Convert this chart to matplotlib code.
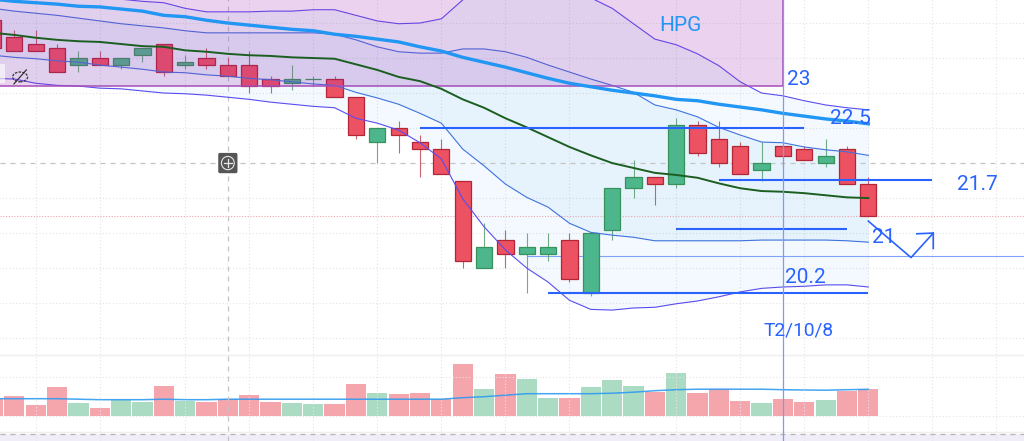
import numpy as np
import matplotlib
matplotlib.use('Agg')
import matplotlib.pyplot as plt
from matplotlib.patches import Rectangle, FancyBboxPatch, Ellipse

plt.rcParams['font.family'] = ['Roboto', 'DejaVu Sans']

# candles, index 0 is the one cut off by the left edge
opens = [24.05, 23.8, 23.7, 23.65, 23.4, 23.5, 23.4, 23.55, 23.7, 23.4, 23.5, 23.4, 23.4, 23.2,
         23.15, 23.2, 23.2, 22.95, 22.3, 22.5, 22.3, 22.2, 21.75, 20.5, 20.9, 20.7, 20.7, 20.9,
         20.15, 21.05, 21.65, 21.8, 21.7, 22.55, 22.35, 22.25, 21.9, 22.25, 22.2, 22.0, 22.2, 21.7]
highs = [24.1, 23.9, 23.9, 23.7, 23.6, 23.6, 23.5, 23.65, 23.7, 23.55, 23.65, 23.5, 23.6, 23.25,
         23.4, 23.25, 23.25, 22.95, 22.5, 22.6, 22.4, 22.35, 21.75, 21.15, 21.05, 21.0, 21.0, 21.0,
         21.0, 21.65, 22.05, 21.8, 22.65, 22.6, 22.6, 22.3, 22.3, 22.25, 22.25, 22.35, 22.25, 21.8]
lows = [23.6, 23.6, 23.6, 23.3, 23.3, 23.4, 23.35, 23.45, 23.25, 23.35, 23.35, 23.25, 23.0, 23.0,
        23.05, 23.1, 22.95, 22.35, 22.0, 22.15, 21.8, 21.85, 20.5, 20.5, 20.5, 20.15, 20.6, 20.3,
        20.1, 20.9, 21.5, 21.4, 21.65, 22.1, 21.95, 21.85, 21.75, 21.95, 22.05, 21.95, 21.7, 21.25]
closes = [23.65, 23.6, 23.6, 23.3, 23.5, 23.4, 23.5, 23.65, 23.3, 23.45, 23.4, 23.25, 23.1, 23.1,
          23.2, 23.2, 22.95, 22.4, 22.5, 22.4, 22.2, 21.85, 20.6, 20.8, 20.7, 20.8, 20.8, 20.35,
          21.0, 21.65, 21.8, 21.7, 22.55, 22.15, 22.0, 21.85, 22.0, 22.1, 22.05, 22.1, 21.7, 21.25]
volumes = [17, 19.7, 10.7, 28.4, 13, 7.7, 15.7, 14, 29.7, 15, 13.7, 16.4, 20.7, 13.7, 13, 11.7,
           11.7, 31.7, 22.4, 21.7, 22.4, 16.7, 51.7, 26.7, 41.7, 36.4, 17.7, 17.7, 28.4, 35.4,
           29.4, 24, 43, 22.4, 26.7, 14.7, 13, 16.4, 13.7, 15.4, 25, 26.7]
volume_ma = [17, 17, 17, 17, 16.5, 16, 16, 16, 16.5, 16, 16, 16.5, 16.5, 16.5, 16.5, 16.5, 16.5,
             16.5, 16.5, 16.5, 16.5, 16.5, 18, 19, 20.5, 22, 22, 22, 22, 22.5, 23.5, 25, 26, 26.5,
             26.5, 26.5, 26.5, 26, 25.7, 25.5, 26, 26.4]

# indicators
ma_long = [24.34, 24.31, 24.29, 24.27, 24.24, 24.23, 24.2, 24.17, 24.11, 24.09, 24.04, 24.0, 23.97,
           23.94, 23.91, 23.89, 23.84, 23.81, 23.77, 23.73, 23.66, 23.6, 23.51, 23.44, 23.37, 23.29,
           23.21, 23.14, 23.09, 23.04, 23.0, 22.96, 22.91, 22.89, 22.84, 22.8, 22.76, 22.71, 22.67,
           22.63, 22.6, 22.56]
ma_short = [23.86, 23.83, 23.79, 23.76, 23.74, 23.73, 23.7, 23.67, 23.66, 23.61, 23.59, 23.56, 23.54,
            23.53, 23.51, 23.5, 23.49, 23.41, 23.33, 23.23, 23.17, 23.06, 22.91, 22.79, 22.64, 22.51,
            22.37, 22.23, 22.11, 22.0, 21.93, 21.86, 21.83, 21.79, 21.71, 21.64, 21.6, 21.59, 21.57,
            21.54, 21.51, 21.5]
band_upper2 = [24.53, 24.5, 24.47, 24.44, 24.41, 24.37, 24.34, 24.31, 24.29, 24.21, 24.16, 24.16, 24.16,
               24.17, 24.17, 24.19, 24.19, 24.11, 24.03, 23.99, 24.0, 24.06, 24.33, 24.54, 24.69, 24.69,
               24.69, 24.61, 24.36, 24.21, 23.99, 23.77, 23.69, 23.56, 23.39, 23.16, 23.0, 22.96, 22.89,
               22.83, 22.79, 22.76]
band_upper1 = [24.21, 24.17, 24.14, 24.11, 24.07, 24.03, 23.99, 23.96, 23.93, 23.89, 23.86, 23.86, 23.86,
               23.86, 23.86, 23.86, 23.84, 23.76, 23.66, 23.59, 23.57, 23.57, 23.63, 23.63, 23.59, 23.51,
               23.4, 23.3, 23.2, 23.11, 23.01, 22.83, 22.76, 22.66, 22.51, 22.4, 22.3, 22.29, 22.23,
               22.19, 22.16, 22.11]
band_lower1 = [23.54, 23.51, 23.49, 23.46, 23.44, 23.4, 23.37, 23.34, 23.3, 23.29, 23.26, 23.24, 23.21,
               23.19, 23.16, 23.13, 23.11, 23.01, 22.93, 22.84, 22.71, 22.57, 22.2, 21.96, 21.7, 21.51,
               21.37, 21.14, 21.01, 20.97, 20.94, 20.89, 20.89, 20.89, 20.89, 20.89, 20.9, 20.9, 20.9,
               20.9, 20.89, 20.87]
band_lower2 = [23.21, 23.2, 23.14, 23.11, 23.1, 23.07, 23.06, 23.03, 23.0, 22.99, 22.97, 22.94, 22.91,
               22.87, 22.84, 22.81, 22.79, 22.64, 22.57, 22.47, 22.29, 22.06, 21.49, 21.09, 20.76, 20.5,
               20.3, 20.04, 19.91, 19.9, 19.93, 19.94, 19.99, 20.03, 20.09, 20.16, 20.21, 20.23, 20.24,
               20.26, 20.26, 20.23]

# grid and hand drawn things on the chart
grid_prices = [24, 23.5, 23, 22.5, 21.5, 21, 20.5, 20, 19.5, 18.94, 18.39]
solid_prices = [19.26, 18.16]
grid_candles = [2, 5, 9, 12, 15, 18, 21, 24, 27, 32, 35, 38, 41, 44, 47]
drawn_levels = [(20, 38, 22.5), (34, 44, 21.76), (32, 40, 21.06), (26, 41, 20.14)]
thin_level = (25, 20.67)
box_top, box_bottom, box_right = 24.4, 23.1, 37
arrow_x = [41, 43, 44.04]
arrow_y = [21.17, 20.65, 21.0]
head_x = [43.27, 44.04, 44.04]
head_y = [20.99, 21.0, 20.78]
notes = [('23', 37.19, 23.2), ('22.5', 39.2, 22.63), ('21.7', 45.15, 21.7), ('21', 41.17, 20.93),
         ('20.2', 37.1, 20.36)]

idx = np.arange(len(opens))
up = np.array(closes) >= np.array(opens)

fig = plt.figure(figsize=(10.24, 4.41), dpi=100)
ax = fig.add_axes([0, 0, 1, 1])
ax.set_xlim(0.328, 48.29)
ax.set_ylim(18.03, 24.329)
ax.axis('off')

ax.axhspan(18.03, 18.13, color='#f0edf8', lw=0, zorder=0)
ax.hlines(grid_prices, 0, 49, color='#e4e4e4', lw=0.8, linestyles=(0, (1, 2)), zorder=1)
ax.hlines(solid_prices, 0, 49, color='#efefef', lw=1, zorder=1)
ax.vlines(grid_candles, 18.03, 24.4, color='#e4e4e4', lw=0.8, linestyles=(0, (1, 2)), zorder=1)

# bands
ax.fill_between(idx, band_lower2, band_upper2, color='#2196f3', alpha=0.05, lw=0, zorder=2)
ax.fill_between(idx, band_lower1, band_upper1, color='#2196f3', alpha=0.06, lw=0, zorder=2)

# crosshair and last price line
ax.axhline(22, color='#c4c4c4', lw=0.9, ls=(0, (4, 4)), zorder=3)
ax.vlines(11, 18.03, 24.4, color='#c4c4c4', lw=0.9, linestyles=(0, (4, 4)), zorder=3)
ax.axhline(21.25, color='#eba5ab', lw=0.8, ls=(0, (1, 1.5)), zorder=3)
ax.axhline(18.13, color='#b4b4b4', lw=0.9, ls=(0, (4, 4)), zorder=3)

# volume on its own scale, 0 sits at the dotted line
vol = fig.add_axes([0, 0, 1, 1], sharex=ax)
vol.set_ylim(-25.3, 415.7)
vol.axis('off')
vol.patch.set_alpha(0)
vol.set_zorder(0.5)
ax.set_zorder(1)
ax.patch.set_alpha(0)
vol_colors = ['#abdcc3' if u else '#f5a6ad' for u in up]
vol.bar(idx, volumes, width=0.95, color=vol_colors, lw=0)
vol.plot(idx, volume_ma, color='#2f9bf0', lw=1.1, alpha=0.9)

ax.hlines(thin_level[1], thin_level[0], 49, color='#7fa2fb', lw=0.8, zorder=3)

# candles
wick_colors = ['#4f9a66' if u else '#b8404e' for u in up]
ax.vlines(idx, lows, highs, color=wick_colors, lw=0.8, alpha=0.8, zorder=4)
for i in idx:
    low_body = min(opens[i], closes[i])
    size = abs(opens[i] - closes[i])
    if up[i]:
        face, edge = '#4db68d', '#37925c'
    else:
        face, edge = '#ec5262', '#b22636'
    ax.add_patch(Rectangle((i - 0.38, low_body), 0.76, size, facecolor=face, edgecolor=edge, lw=0.9, zorder=5))

ax.plot(idx, band_upper2, color='#5a4df0', lw=0.8, zorder=6)
ax.plot(idx, band_lower2, color='#5a4df0', lw=0.8, zorder=6)
ax.plot(idx, band_upper1, color='#3f72dc', lw=0.8, zorder=6)
ax.plot(idx, band_lower1, color='#3f72dc', lw=0.8, zorder=6)

# purple box
ax.add_patch(Rectangle((-1, box_bottom), box_right + 1, box_top - box_bottom, facecolor='#9c27b0',
                       alpha=0.2, lw=0, zorder=7))
ax.plot([-1, box_right, box_right], [box_bottom, box_bottom, box_top], color='#a64db8', lw=1.1, zorder=7)

ax.plot(idx, ma_short, color='#1b5e20', lw=1.4, zorder=8)
ax.plot(idx, ma_long, color='#2196f3', lw=2.4, zorder=8)

# drawings
for x0, x1, p in drawn_levels:
    ax.hlines(p, x0, x1, color='#2962ff', lw=1.5, zorder=8)
ax.axvline(box_right, color='#7a9cf8', lw=0.9, zorder=8)
ax.plot(arrow_x, arrow_y, color='#2962ff', lw=1.2, zorder=8)
ax.plot(head_x, head_y, color='#2962ff', lw=1.2, zorder=8)

ax.text(32.18, 23.96, 'HPG', color='#2196f3', fontsize=15, ha='center', va='center', zorder=9)
for label, x, p in notes:
    ax.text(x, p, label, color='#2962ff', fontsize=15, ha='left', va='center', zorder=9)
ax.text(36.1, 19.61, 'T2/10/8', color='#2962ff', fontsize=13.8, ha='left', va='center', zorder=9)

# crosshair button and hidden eye icon
ax.add_patch(FancyBboxPatch((10.55, 21.855), 0.9, 0.29, boxstyle='round,pad=0,rounding_size=0.08',
                            mutation_aspect=0.3, facecolor='#555555', edgecolor='none', zorder=10))
ax.add_patch(Ellipse((11, 22), 0.6, 0.19, facecolor='none', edgecolor='#e8e8e8', lw=0.8, zorder=11))
ax.plot([10.8, 11.2], [22, 22], color='#e8e8e8', lw=0.9, zorder=11)
ax.plot([11, 11], [21.94, 22.06], color='#e8e8e8', lw=0.9, zorder=11)
ax.add_patch(Rectangle((0, 23.14), 0.58, 0.28, facecolor='white', alpha=0.6, lw=0, zorder=9))
ax.add_patch(Ellipse((1.27, 23.23), 0.7, 0.14, facecolor='none', edgecolor='#333333', lw=0.9, ls=(0, (2, 1)), zorder=10))
ax.plot([0.98, 1.56], [23.13, 23.33], color='#333333', lw=0.9, zorder=10)

plt.savefig('out.png', dpi=100)
plt.close()
